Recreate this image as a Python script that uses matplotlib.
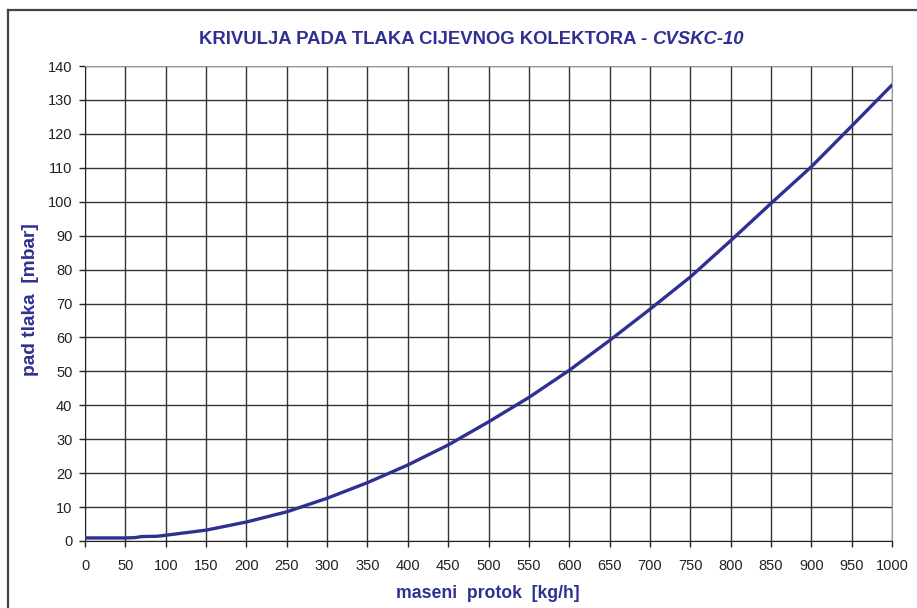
import matplotlib
matplotlib.use("Agg")
import matplotlib.pyplot as plt
from matplotlib.lines import Line2D

flow = [0, 50, 62, 70, 90, 100, 150, 200, 250, 300, 350, 400, 450, 500,
        550, 600, 650, 700, 750, 800, 850, 900, 950, 1000]
dp = [0.9, 0.9, 1.0, 1.3, 1.4, 1.7, 3.2, 5.6, 8.6, 12.6, 17.2, 22.4, 28.3, 35.1,
      42.3, 50.3, 59.1, 68.3, 77.8, 88.5, 99.5, 110.3, 122.3, 134.4]
xticks = list(range(0, 1001, 50))
yticks = list(range(0, 141, 10))

title_main = "KRIVULJA PADA TLAKA CIJEVNOG KOLEKTORA - "
title_ital = "CVSKC-10"
xlabel = "maseni  protok  [kg/h]"
ylabel = "pad tlaka  [mbar]"

BLUE = "#2E3192"
plt.rcParams['font.family'] = ['Liberation Sans', 'DejaVu Sans']

W, H = 917, 608
fig = plt.figure(figsize=(W / 100, H / 100), dpi=100)
ax = fig.add_axes([85 / W, 1 - 541 / H, (892 - 85) / W, (541 - 66) / H])

ax.plot(flow, dp, color=BLUE, lw=2.4, solid_capstyle='round', zorder=3)
ax.set_xlim(0, 1000)
ax.set_ylim(0, 140)
ax.set_xticks(xticks)
ax.set_yticks(yticks)
ax.grid(True, color="#333333", lw=1.0, zorder=0)
ax.tick_params(direction='out', length=4, width=1, colors="#222222",
               labelsize=10.5)
ax.tick_params(axis='x', pad=9)
ax.tick_params(axis='y', pad=5)
for s in ['left', 'bottom']:
    ax.spines[s].set_color("#222222")
for s in ['top', 'right']:
    ax.spines[s].set_color("#999999")

fig.text(488 / W, 1 - 594 / H, xlabel, ha='center', va='center',
         color=BLUE, fontsize=12.7, fontweight='bold')
fig.text(31 / W, 1 - 300 / H, ylabel, ha='center', va='center', rotation=90,
         color=BLUE, fontsize=13.8, fontweight='bold')

# title in two parts
renderer = fig.canvas.get_renderer()
t1 = fig.text(0, 1 - 39 / H, title_main, ha='left', va='center', color=BLUE,
              fontsize=13.3, fontweight='bold')
t2 = fig.text(0, 1 - 39 / H, title_ital, ha='left', va='center', color=BLUE,
              fontsize=13.3, fontweight='bold', style='italic')
w1 = t1.get_window_extent(renderer).width
w2 = t2.get_window_extent(renderer).width
x0 = 471 - (w1 + w2) / 2
t1.set_x(x0 / W)
t2.set_x((x0 + w1) / W)

# outer frame
fig.add_artist(Line2D([8 / W, 8 / W], [0, 1 - 9.5 / H], color="#444444", lw=1.6,
                      transform=fig.transFigure))
fig.add_artist(Line2D([8 / W, 916 / W], [1 - 9.5 / H, 1 - 9.5 / H], color="#444444",
                      lw=1.6, transform=fig.transFigure))

fig.savefig("out.png", dpi=100)
